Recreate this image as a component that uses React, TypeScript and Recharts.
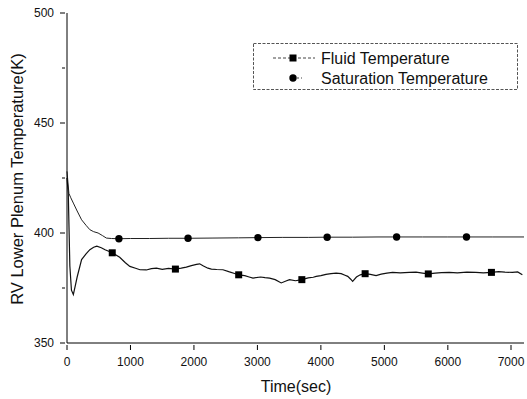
import React from 'react';
import { ComposedChart, Line, Scatter, XAxis, YAxis } from 'recharts';

const fluidTime = [0, 20, 45, 70, 100, 130, 160, 230, 300, 360, 420, 470, 540, 600, 713, 830, 920, 990, 1080, 1150, 1250, 1330, 1410, 1500, 1600, 1708, 1800, 1880, 1960, 2040, 2090, 2150, 2220, 2275, 2360, 2457, 2560, 2640, 2705, 2800, 2870, 2930, 3050, 3120, 3192, 3280, 3375, 3450, 3506, 3600, 3700, 3800, 3880, 3926, 4000, 4080, 4160, 4240, 4320, 4380, 4423, 4470, 4500, 4560, 4620, 4697, 4780, 4870, 4950, 5040, 5130, 5250, 5393, 5500, 5600, 5692, 5800, 5900, 6022, 6150, 6300, 6441, 6560, 6687, 6800, 6900, 7017, 7100, 7174];
const fluidTemp = [425, 418, 385, 374, 372, 376, 380, 387.9, 390.5, 392.4, 393.5, 394, 393.3, 392.4, 391, 389, 386.5, 384.8, 384, 383.3, 383.2, 383.8, 384, 383.5, 383.9, 383.6, 384, 384.5, 385.2, 385.7, 386, 385, 384, 383.6, 383.4, 383.3, 382.3, 381.6, 381, 380.6, 380, 379.5, 380, 379.7, 379.5, 378.8, 377.3, 378.2, 378.8, 378.3, 378.8, 379.6, 379.9, 380.3, 380.6, 381.2, 381.5, 381.8, 381.5, 380.8, 380.3, 379, 378, 380, 381, 381.5, 381.2, 380.6, 381.3, 381.8, 382.1, 381.9, 382.1, 382.2, 381.8, 381.4, 381.8, 382, 382.1, 381.9, 382.2, 382.1, 381.9, 382.1, 382.4, 382.2, 382.1, 382.3, 381];

const satTime = [0, 30, 60, 100, 160, 230, 300, 360, 420, 490, 560, 620, 700, 818, 1000, 1300, 1600, 1907, 2300, 2700, 3008, 3400, 3800, 4099, 4500, 4900, 5193, 5600, 6000, 6294, 6700, 7200];
const satTemp = [428, 418, 416, 413.6, 410, 406, 403.5, 401.5, 400.6, 400, 398.8, 397.7, 397.5, 397.4, 397.5, 397.5, 397.6, 397.6, 397.7, 397.8, 397.9, 398, 398, 398.1, 398.1, 398.2, 398.2, 398.2, 398.2, 398.2, 398.2, 398.2];

const fluidMarkTime = [713, 1708, 2705, 3700, 4697, 5692, 6687];
const fluidMarkTemp = [391, 383.6, 381, 378.8, 381.5, 381.4, 382.1];
const satMarkTime = [818, 1907, 3008, 4099, 5193, 6294];
const satMarkTemp = [397.4, 397.6, 397.9, 398.1, 398.2, 398.2];

const xTicks = [0, 500, 1000, 1500, 2000, 2500, 3000, 3500, 4000, 4500, 5000, 5500, 6000, 6500, 7000];
const yTicks = [350, 375, 400, 425, 450, 475, 500];
const seriesNames = ['Fluid Temperature', 'Saturation Temperature'];

const fluidData = fluidTime.map((t, i) => ({ t, v: fluidTemp[i] }));
const satData = satTime.map((t, i) => ({ t, v: satTemp[i] }));
const fluidMarks = fluidMarkTime.map((t, i) => ({ t, v: fluidMarkTemp[i] }));
const satMarks = satMarkTime.map((t, i) => ({ t, v: satMarkTemp[i] }));

const FONT = '"Liberation Sans", Arial, sans-serif';

const XTick = (props: any) => {
  const { x, y, payload } = props;
  const major = payload.value % 1000 === 0;
  return (
    <g>
      <line x1={x} x2={x} y1={y} y2={y + (major ? 5 : 3)} stroke="#000" strokeWidth={1} />
      {major && (
        <text x={x} y={y + 21} textAnchor="middle" fontSize={12} fontFamily={FONT} fill="#111">
          {payload.value}
        </text>
      )}
    </g>
  );
};

const YTick = (props: any) => {
  const { x, y, payload } = props;
  const major = payload.value % 50 === 0;
  return (
    <g>
      <line x1={x} x2={x - (major ? 5 : 3)} y1={y} y2={y} stroke="#000" strokeWidth={1} />
      {major && (
        <text x={x - 11} y={y + 4} textAnchor="end" fontSize={12} fontFamily={FONT} fill="#111">
          {payload.value}
        </text>
      )}
    </g>
  );
};

const SquareMark = (props: any) => {
  const { cx, cy } = props;
  return <rect x={cx - 3.5} y={cy - 3.5} width={7} height={7} fill="#000" />;
};

const CircleMark = (props: any) => {
  const { cx, cy } = props;
  return <circle cx={cx} cy={cy} r={3.7} fill="#000" />;
};

const LegendBox = () => (
  <svg width={527} height={399} style={{ position: 'absolute', left: 0, top: 0, pointerEvents: 'none' }}>
    <rect x={253.5} y={43.5} width={264} height={46} fill="#fff" stroke="#555" strokeDasharray="3 1.5" />
    <line x1={273} x2={315} y1={58} y2={58} stroke="#444" strokeDasharray="3 2" />
    <rect x={289.5} y={54.5} width={7} height={7} fill="#000" />
    <line x1={293} x2={302} y1={78} y2={78} stroke="#444" strokeDasharray="2 2" />
    <circle cx={293} cy={78} r={3.7} fill="#000" />
    <text x={321} y={63.5} fontSize={16} fontFamily={FONT} fill="#111">{seriesNames[0]}</text>
    <text x={321} y={84} fontSize={16} fontFamily={FONT} fill="#111">{seriesNames[1]}</text>
  </svg>
);

export default function App() {
  return (
    <div style={{ position: 'absolute', left: 0, top: 0, width: 527, height: 399, background: '#fff' }}>
      <ComposedChart width={527} height={399} margin={{ top: 13, right: 3, bottom: 0, left: 0 }}>
        <XAxis
          dataKey="t"
          type="number"
          domain={[0, 7200]}
          ticks={xTicks}
          allowDuplicatedCategory={false}
          height={56}
          tickLine={false}
          tickSize={0}
          tick={<XTick />}
          stroke="#000"
          label={() => (
            <text x={296} y={392} textAnchor="middle" fontSize={16} fontFamily={FONT} fill="#111">
              Time(sec)
            </text>
          )}
        />
        <YAxis
          dataKey="v"
          type="number"
          domain={[350, 500]}
          ticks={yTicks}
          width={67}
          tickLine={false}
          tickSize={0}
          tick={<YTick />}
          stroke="#000"
          label={() => (
            <text transform="translate(23,179) rotate(-90)" textAnchor="middle" fontSize={16.5} fontFamily={FONT} fill="#111">
              RV Lower Plenum Temperature(K)
            </text>
          )}
        />
        <Line data={satData} dataKey="v" type="linear" stroke="#222" strokeWidth={1} dot={false} isAnimationActive={false} />
        <Line data={fluidData} dataKey="v" type="linear" stroke="#111" strokeWidth={1.2} dot={false} isAnimationActive={false} />
        <Scatter data={satMarks} dataKey="v" fill="#000" shape={<CircleMark />} isAnimationActive={false} />
        <Scatter data={fluidMarks} dataKey="v" fill="#000" shape={<SquareMark />} isAnimationActive={false} />
      </ComposedChart>
      <LegendBox />
    </div>
  );
}
